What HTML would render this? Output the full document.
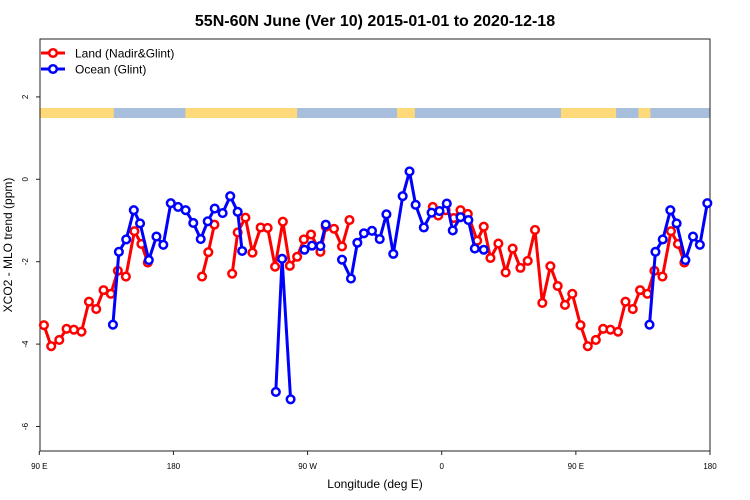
<!DOCTYPE html>
<html><head><meta charset="utf-8">
<style>
body{margin:0;background:#fff;}
svg{display:block;font-family:"Liberation Sans",sans-serif;}
</style></head>
<body>
<svg id="chart" width="750" height="500" viewBox="0 0 750 500">
<text x="375" y="26" text-anchor="middle" font-size="16" font-weight="bold">55N-60N June (Ver 10)   2015-01-01 to 2020-12-18</text>
<g id="stripe"></g>
<rect x="40" y="39" width="670" height="412" fill="none" stroke="#222" stroke-width="1"/>
<g id="axes"></g>
<g id="series"></g>
<g>
 <g>
  <line x1="41" y1="53" x2="65" y2="53" stroke="#f00" stroke-width="3"/>
  <circle cx="53" cy="53" r="3.8" fill="#fff" stroke="#f00" stroke-width="2.5"/>
  <text x="75" y="57.5" font-size="12">Land (Nadir&amp;Glint)</text>
 </g>
 <g>
  <line x1="41" y1="69" x2="65" y2="69" stroke="#00f" stroke-width="3"/>
  <circle cx="53" cy="69" r="3.8" fill="#fff" stroke="#00f" stroke-width="2.5"/>
  <text x="75" y="73.5" font-size="12">Ocean (Glint)</text>
 </g>
</g>
<text x="375" y="488" text-anchor="middle" font-size="12">Longitude (deg E)</text>
<text transform="translate(12,245) rotate(-90)" text-anchor="middle" font-size="12">XCO2 - MLO trend (ppm)</text>
</svg>
<script>
const xTickVals=[90,180,270,360,450,540];
const xTickLabels=["90 E","180","90 W","0","90 E","180"];
const yTickVals=[2,0,-2,-4,-6];
const yTickLabels=["2","0","-2","-4","-6"];
const landLon=[93.1,98.0,103.4,108.3,113.2,118.3,123.3,128.2,133.1,138.0,142.7,148.1,153.8,158.5,162.8,null,199.2,203.4,207.5,null,219.4,223.1,228.3,233.0,238.5,243.2,248.2,253.4,258.1,263.0,267.5,272.3,278.6,282.2,287.7,293.1,298.1,null,354.0,357.7,362.6,368.1,372.6,377.5,383.8,388.2,392.7,398.0,402.9,407.6,412.8,417.7,422.6,427.5,432.9,437.8,442.7,447.6];
const landVal=[-3.54,-4.05,-3.9,-3.63,-3.65,-3.7,-2.97,-3.15,-2.69,-2.78,-2.22,-2.36,-1.26,-1.57,-2.02,null,-2.36,-1.77,-1.1,null,-2.29,-1.29,-0.93,-1.78,-1.17,-1.18,-2.12,-1.03,-2.1,-1.88,-1.46,-1.34,-1.76,-1.15,-1.2,-1.63,-0.99,null,-0.67,-0.88,-0.75,-0.94,-0.75,-0.84,-1.49,-1.15,-1.91,-1.56,-2.26,-1.68,-2.15,-1.98,-1.23,-3.0,-2.11,-2.59,-3.05,-2.78];
const oceanLon=[139.4,143.4,148.3,153.4,157.6,163.5,168.6,173.2,178.2,183.1,188.2,193.3,198.3,203.0,207.7,213.0,218.1,223.1,226.1,null,248.7,252.9,258.6,null,267.9,273.0,278.6,282.2,null,293.1,299.1,303.4,307.8,313.2,318.4,322.9,327.5,333.8,338.4,342.5,348.0,353.2,358.5,363.4,367.4,372.6,377.9,382.2,388.2];
const oceanVal=[-3.53,-1.76,-1.46,-0.75,-1.07,-1.96,-1.39,-1.59,-0.58,-0.67,-0.75,-1.06,-1.45,-1.02,-0.71,-0.82,-0.41,-0.79,-1.74,null,-5.16,-1.93,-5.34,null,-1.71,-1.61,-1.62,-1.1,null,-1.95,-2.41,-1.54,-1.31,-1.25,-1.45,-0.85,-1.81,-0.41,0.19,-0.62,-1.17,-0.81,-0.77,-0.59,-1.24,-0.92,-0.99,-1.68,-1.71];
// land/ocean stripe segments: [startLon,endLon,type]
const stripeStart=[90,140,188,195,263,330,342,350,440,477,492,500];
const stripeEnd=[140,188,195,263,330,342,350,440,477,492,500,540];
const stripeType=["L","O","L","L","O","L","O","O","L","O","L","O"];

const NS="http://www.w3.org/2000/svg";
const X0=39.3,X1=710,Y0=179.3,PPU=41.2;
function xs(l){return X0+(l-90)*(X1-X0)/450;}
function ys(v){return Y0-v*PPU;}
function el(t,a,p){const e=document.createElementNS(NS,t);for(const k in a)e.setAttribute(k,a[k]);p.appendChild(e);return e;}

const stripe=document.getElementById('stripe');
for(let i=0;i<stripeStart.length;i++){
 const r=el('rect',{x:xs(stripeStart[i]),y:108,width:xs(stripeEnd[i])-xs(stripeStart[i])+0.5,height:10,fill:stripeType[i]==="L"?"#fdd97a":"#a7bedd"},stripe);
 
 
}

const axes=document.getElementById('axes');


xTickVals.forEach((v,i)=>{
 const x=xs(v);
 const t=el('line',{x1:x,y1:451,x2:x,y2:455,stroke:"#222"},axes);
 
 
 const tx=el('text',{x:x,y:469,"text-anchor":"middle","font-size":"8"},axes);
 tx.textContent=xTickLabels[i];
 
 
});
yTickVals.forEach((v,i)=>{
 const y=ys(v);
 const t=el('line',{x1:36,y1:y,x2:40,y2:y,stroke:"#222"},axes);
 
 
 const tx=el('text',{transform:`translate(28,${y}) rotate(-90)`,"text-anchor":"middle","font-size":"8"},axes);
 tx.textContent=yTickLabels[i];
 
 
});

function wrap(lon,val){
 const L=lon.slice(),V=val.slice();
 let last=L[L.length-1];
 for(let i=0;i<lon.length;i++){
  if(lon[i]!==null&&lon[i]+360<=540){
   if(lon[i]+360-last>15){L.push(null);V.push(null);}
   L.push(lon[i]+360);V.push(val[i]);last=lon[i]+360;
  } else if(lon[i]===null&&L[L.length-1]!==null&&L.length>lon.length){L.push(null);V.push(null);}
 }
 return [L,V];
}
function drawSeries(lon,val,color,name){
 const [L,V]=wrap(lon,val);
 const g=el('g',{},document.getElementById('series'));
 
 
 let d="",pen=false;
 for(let i=0;i<L.length;i++){
  if(L[i]===null){pen=false;continue;}
  d+=(pen?"L":"M")+xs(L[i]).toFixed(1)+","+ys(V[i]).toFixed(1);pen=true;
 }
 const p=el('path',{d:d,fill:"none",stroke:color,"stroke-width":3,"stroke-linejoin":"round"},g);
 
 
 for(let i=0;i<L.length;i++){
  if(L[i]===null)continue;
  const c=el('circle',{cx:xs(L[i]),cy:ys(V[i]),r:3.8,fill:"#fff",stroke:color,"stroke-width":2.5},g);
  
  
 }
}
drawSeries(landLon,landVal,"#f00","land");
drawSeries(oceanLon,oceanVal,"#00f","ocean");
</script>
</body></html>
